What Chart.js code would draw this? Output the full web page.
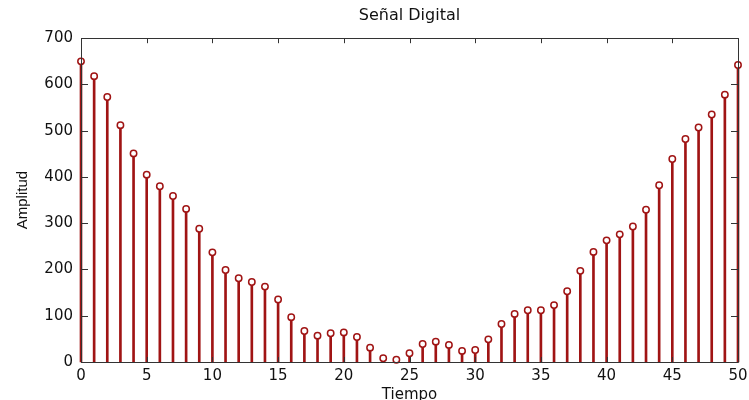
<!DOCTYPE html>
<html>
<head>
<meta charset="utf-8">
<script src="https://cdn.jsdelivr.net/npm/chart.js@4/dist/chart.umd.min.js"></script>
<style>
  html, body { margin: 0; padding: 0; background: #fff; }
  #wrap { width: 749px; height: 400px; }
</style>
</head>
<body>
<div id="wrap"><canvas id="c" width="749" height="400"></canvas></div>
<script>
// Discrete samples n = 0..50
const tiempo = [0,1,2,3,4,5,6,7,8,9,10,11,12,13,14,15,16,17,18,19,20,21,22,23,24,25,26,27,28,29,30,31,32,33,34,35,36,37,38,39,40,41,42,43,44,45,46,47,48,49,50];
const amplitud = [650,618,573,512,451,405,380,359,331,288,237,199,181,173,163,135,97,67,57,62,64,54,31,8,5,19,39,44,37,24,26,49,82,104,112,112,123,153,197,238,263,276,293,329,382,439,482,507,535,578,642];
const xTicks = [0,5,10,15,20,25,30,35,40,45,50];
const yTicks = [0,100,200,300,400,500,600,700];

const tituloTexto = 'Señal Digital';
const ejeX = 'Tiempo';
const ejeY = 'Amplitud';

const rojo = '#a01414';
const ejeColor = '#333333';
const fuente = 'DejaVu Sans';

const puntos = tiempo.map((t, i) => ({ x: t, y: amplitud[i] }));

// Box around the axes with inward tick marks on all four sides
const marco = {
  id: 'marco',
  afterDatasetsDraw(chart) {
    const { ctx, chartArea: a, scales: { x, y } } = chart;
    ctx.save();
    ctx.strokeStyle = ejeColor;
    ctx.lineWidth = 1;
    ctx.beginPath();
    ctx.rect(Math.round(a.left) + 0.5, Math.round(a.top) + 0.5,
             Math.round(a.right - a.left), Math.round(a.bottom - a.top));
    ctx.stroke();
    ctx.beginPath();
    x.ticks.forEach(t => {
      const px = Math.round(x.getPixelForValue(t.value)) + 0.5;
      ctx.moveTo(px, a.top); ctx.lineTo(px, a.top + 5);
      ctx.moveTo(px, a.bottom); ctx.lineTo(px, a.bottom - 5);
    });
    y.ticks.forEach(t => {
      const py = Math.round(y.getPixelForValue(t.value)) + 0.5;
      ctx.moveTo(a.left, py); ctx.lineTo(a.left + 7, py);
      ctx.moveTo(a.right, py); ctx.lineTo(a.right - 7, py);
    });
    ctx.stroke();
    ctx.restore();
  }
};

new Chart(document.getElementById('c'), {
  data: {
    datasets: [
      {
        type: 'scatter',
        data: puntos,
        order: 0,
        clip: false,
        pointStyle: 'circle',
        pointRadius: 3.2,
        pointBorderWidth: 1.5,
        pointBackgroundColor: '#ffffff',
        pointBorderColor: rojo
      },
      {
        type: 'bar',
        data: puntos,
        order: 1,
        clip: false,
        barThickness: 2,
        backgroundColor: rojo,
        borderWidth: 0
      }
    ]
  },
  options: {
    responsive: false,
    animation: false,
    events: [],
    layout: { padding: { left: 0, right: 11, top: 0, bottom: 0 } },
    plugins: {
      legend: { display: false },
      tooltip: { enabled: false },
      title: {
        display: true,
        fullSize: false,
        text: tituloTexto,
        color: '#111',
        font: { family: fuente, size: 16, weight: 'normal' },
        padding: { top: 6, bottom: 13 }
      }
    },
    scales: {
      x: {
        type: 'linear',
        min: 0, max: 50,
        offset: false,
        afterBuildTicks: s => { s.ticks = xTicks.map(v => ({ value: v })); },
        afterFit: s => { s.height = 38; s.paddingLeft = 0; s.paddingRight = 0; },
        grid: { display: false, drawTicks: false },
        border: { display: false },
        ticks: { color: '#111', padding: 5, maxRotation: 0, font: { family: fuente, size: 15 } },
        title: {
          display: true, text: ejeX, color: '#111',
          font: { family: fuente, size: 15 },
          padding: { top: -4, bottom: -4 }
        }
      },
      y: {
        type: 'linear',
        min: 0, max: 700,
        afterBuildTicks: s => { s.ticks = yTicks.map(v => ({ value: v })); },
        afterFit: s => { s.width = 81; s.paddingTop = 0; s.paddingBottom = 0; },
        grid: { display: false, drawTicks: false },
        border: { display: false },
        ticks: { color: '#111', padding: 8, font: { family: fuente, size: 15 } },
        title: {
          display: true, text: ejeY, color: '#111',
          font: { family: 'Liberation Sans', size: 15 },
          padding: { top: 14, bottom: 0 }
        }
      }
    }
  },
  plugins: [marco]
});
</script>
</body>
</html>
